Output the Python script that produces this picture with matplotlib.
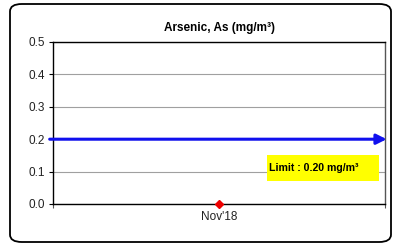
import matplotlib
matplotlib.use("Agg")
import matplotlib.pyplot as plt
from matplotlib.patches import FancyBboxPatch, Rectangle

plt.rcParams['font.family'] = ['Liberation Sans', 'DejaVu Sans']

categories = ["Nov'18"]
values = [0.0]
limit = 0.20
yticks = [0.0, 0.1, 0.2, 0.3, 0.4, 0.5]
title = "Arsenic, As (mg/m³)"
limit_label = "Limit : 0.20 mg/m³"

W, H = 394, 246
fig = plt.figure(figsize=(W / 100, H / 100), dpi=100)
fig.patch.set_facecolor('white')

# outer rounded border
border = FancyBboxPatch((10 / W, 4 / H), (381 / W), (238 / H),
                        boxstyle="round,pad=0,rounding_size=0.03",
                        transform=fig.transFigure, fill=False,
                        edgecolor='black', linewidth=1.3)
fig.patches.append(border)

ax = fig.add_axes([53 / W, 42 / H, 332 / W, 162 / H])
x = list(range(len(categories)))
ax.set_xlim(-0.5, len(categories) - 0.5)
ax.set_ylim(0, 0.5)
ax.set_yticks(yticks)
ax.set_yticklabels([f"{v:.1f}" for v in yticks], fontsize=8.5, color='#222222')
ax.set_xticks(x)
ax.set_xticklabels(categories, fontsize=8.5, color='#222222')
ax.tick_params(axis='x', length=0, pad=5)
ax.tick_params(axis='y', length=3, width=0.8, pad=3)
ax.grid(axis='y', color='#a0a0a0', linewidth=0.8)
ax.set_axisbelow(True)
for s in ['left', 'bottom', 'top']:
    ax.spines[s].set_color('black')
    ax.spines[s].set_linewidth(1.0)
ax.spines['right'].set_color('#555555')
ax.spines['right'].set_linestyle((0, (3, 1)))
ax.spines['right'].set_linewidth(1.0)

# minor ticks at category edges on x-axis
ax.set_xticks([-0.5, len(categories) - 0.5], minor=True)
ax.tick_params(axis='x', which='minor', length=3, width=0.8, color='#555555')

# limit arrow
ax.annotate('', xy=(len(categories) - 0.5 + 0.005, limit), xytext=(-0.51, limit),
            xycoords='data', textcoords='data',
            arrowprops=dict(arrowstyle='-|>,head_length=0.6,head_width=0.3',
                            color='#1010ee', linewidth=2.2, shrinkA=0, shrinkB=0),
            annotation_clip=False, zorder=4)

# data markers
ax.plot(x, values, linestyle='none', marker='D', markersize=4.5, color='#ee0000',
        clip_on=False, zorder=5)

ax.set_title(title, fontsize=8.5, fontweight='bold', pad=8)

# limit label box
ax.add_patch(Rectangle((0.145, 0.071), 0.337, 0.080, facecolor='#ffff00',
                       edgecolor='none', zorder=3))
ax.text(0.151, 0.112, limit_label, fontsize=7.6, fontweight='bold', va='center',
        ha='left', zorder=4)

fig.savefig('out.png', dpi=100)
